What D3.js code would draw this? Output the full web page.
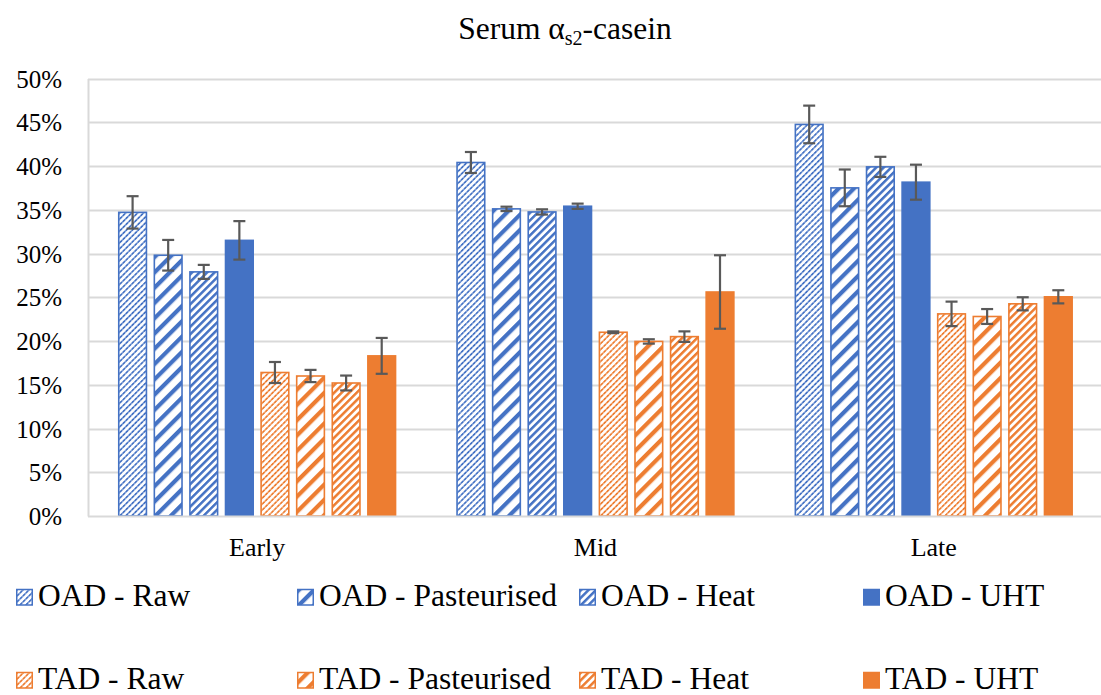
<!DOCTYPE html>
<html>
<head>
<meta charset="utf-8">
<script src="https://cdn.jsdelivr.net/npm/d3@7/dist/d3.min.js"></script>
<style>
  html, body { margin: 0; padding: 0; background: #fff; }
  svg { display: block; }
  svg text { font-family: "Liberation Serif", "Times New Roman", serif !important; }
</style>
</head>
<body>
<svg id="chart" width="1101" height="695"></svg>
<script>
// Stages of lactation (x groups)
const categories = ["Early", "Mid", "Late"];

// Series names, in drawing order
const seriesNames = [
  "OAD - Raw", "OAD - Pasteurised", "OAD - Heat", "OAD - UHT",
  "TAD - Raw", "TAD - Pasteurised", "TAD - Heat", "TAD - UHT"
];

// Mean serum αs2-casein proportion (%) per series, per stage
const oadRaw   = [34.7, 40.4, 44.75];
const oadPast  = [29.8, 35.1, 37.5];
const oadHeat  = [27.9, 34.75, 39.9];
const oadUht   = [31.5, 35.4, 38.15];
const tadRaw   = [16.4, 21.0, 23.1];
const tadPast  = [16.0, 19.95, 22.8];
const tadHeat  = [15.2, 20.5, 24.25];
const tadUht   = [18.3, 25.6, 25.05];

// Error bar half-widths (%)
const oadRawErr  = [1.85, 1.2, 2.15];
const oadPastErr = [1.75, 0.25, 2.1];
const oadHeatErr = [0.8, 0.3, 1.15];
const oadUhtErr  = [2.2, 0.3, 2.0];
const tadRawErr  = [1.2, 0.1, 1.4];
const tadPastErr = [0.7, 0.25, 0.85];
const tadHeatErr = [0.85, 0.6, 0.75];
const tadUhtErr  = [2.05, 4.2, 0.75];

// Y axis tick values
const yTicks = [0, 5, 10, 15, 20, 25, 30, 35, 40, 45, 50];

const seriesValues = [oadRaw, oadPast, oadHeat, oadUht, tadRaw, tadPast, tadHeat, tadUht];
const seriesErrors = [oadRawErr, oadPastErr, oadHeatErr, oadUhtErr, tadRawErr, tadPastErr, tadHeatErr, tadUhtErr];

const BLUE = "#4472C4", ORANGE = "#ED7D31";
const fillKind = ["raw", "past", "heat", "solid", "raw", "past", "heat", "solid"];
const seriesColor = seriesNames.map(n => n.startsWith("OAD") ? BLUE : ORANGE);
const SERIF = "'Liberation Serif', 'Times New Roman', serif";

const svg = d3.select("#chart");
const W = 1101, H = 695;
const plotL = 88, plotR = W + 2;
const plotT = 78.5, plotB = 516;

// Hatch patterns
const defs = svg.append("defs");
function makePattern(id, color, kind) {
  const spec = {
    raw:  { size: 4.2, width: 1.7, opacity: 1 },
    past: { size: 10.8, width: 4.2, opacity: 1 },
    heat: { size: 5.3, width: 2.5, opacity: 1 }
  }[kind];
  const p = defs.append("pattern")
    .attr("id", id)
    .attr("patternUnits", "userSpaceOnUse")
    .attr("width", spec.size)
    .attr("height", spec.size)
    .attr("patternTransform", "rotate(45)");
  p.append("rect").attr("width", spec.size).attr("height", spec.size).attr("fill", "#fff");
  p.append("rect")
    .attr("x", 0).attr("y", 0)
    .attr("width", spec.width).attr("height", spec.size)
    .attr("fill", color).attr("opacity", spec.opacity);
  if (kind === "raw") {
    // broken look of the fine hatch
    p.append("rect").attr("x", 0).attr("y", spec.size * 0.5)
      .attr("width", spec.width).attr("height", 0.9).attr("fill", "#fff").attr("opacity", 0.55);
  }
}
seriesNames.forEach((n, i) => {
  if (fillKind[i] !== "solid") makePattern("pat" + i, seriesColor[i], fillKind[i]);
});
const fillOf = i => fillKind[i] === "solid" ? seriesColor[i] : `url(#pat${i})`;

// Scales
const x0 = d3.scaleBand().domain(categories).range([plotL, plotL + 3 * 338.3]);
const bw = x0.bandwidth();
const x1 = d3.scaleBand().domain(seriesNames).range([30, bw - 30]).paddingInner(0.18);
const y = d3.scaleLinear().domain([0, 50]).range([plotB, plotT]);

// Gridlines
svg.append("g").selectAll("line").data(yTicks.filter(t => t > 0)).join("line")
  .attr("x1", plotL).attr("x2", plotR)
  .attr("y1", d => Math.round(y(d)) + 0.5).attr("y2", d => Math.round(y(d)) + 0.5)
  .attr("stroke", "#d9d9d9").attr("stroke-width", 2);

// Y axis
const yAxis = d3.axisLeft(y).tickValues(yTicks).tickSize(0).tickPadding(26).tickFormat(d => d + "%");
const gy = svg.append("g").attr("transform", `translate(${plotL},0)`).call(yAxis)
  .attr("font-family", SERIF);
gy.select(".domain").attr("stroke", "#d9d9d9").attr("stroke-width", 2);
gy.selectAll("text").attr("font-size", 25).attr("fill", "#000")
  .style("font-family", SERIF).attr("dy", "0.34em");

// Bars
const groups = svg.append("g").selectAll("g").data(categories).join("g")
  .attr("transform", d => `translate(${x0(d)},0)`);

seriesNames.forEach((name, si) => {
  groups.append("rect")
    .attr("x", () => x1(name) + 0.75)
    .attr("width", x1.bandwidth() - 1.5)
    .attr("y", (d, ci) => y(seriesValues[si][ci]))
    .attr("height", (d, ci) => plotB - y(seriesValues[si][ci]))
    .attr("fill", fillOf(si))
    .attr("stroke", seriesColor[si])
    .attr("stroke-width", 1.6);
});

// X axis baseline
svg.append("line").attr("x1", plotL).attr("x2", plotR)
  .attr("y1", plotB + 0.5).attr("y2", plotB + 0.5)
  .attr("stroke", "#d9d9d9").attr("stroke-width", 2);

// Error bars
seriesNames.forEach((name, si) => {
  const eg = groups.append("g").attr("stroke", "#595959").attr("stroke-width", 2.2).attr("fill", "none");
  const cx = x1(name) + x1.bandwidth() / 2;
  eg.append("line")
    .attr("x1", cx).attr("x2", cx)
    .attr("y1", (d, ci) => y(seriesValues[si][ci] + seriesErrors[si][ci]))
    .attr("y2", (d, ci) => y(seriesValues[si][ci] - seriesErrors[si][ci]));
  [1, -1].forEach(s => {
    eg.append("line")
      .attr("x1", cx - 6).attr("x2", cx + 6)
      .attr("y1", (d, ci) => y(seriesValues[si][ci] + s * seriesErrors[si][ci]))
      .attr("y2", (d, ci) => y(seriesValues[si][ci] + s * seriesErrors[si][ci]));
  });
});

// Category labels
const xAxis = d3.axisBottom(x0).tickSize(0).tickPadding(22);
const gx = svg.append("g").attr("transform", `translate(0,${plotB})`).call(xAxis)
  .attr("font-family", SERIF);
gx.select(".domain").remove();
gx.selectAll("text").attr("font-size", 26).attr("fill", "#000").style("font-family", SERIF);

// Title with subscript
const title = svg.append("text").attr("x", 565).attr("y", 39)
  .attr("text-anchor", "middle").attr("font-size", 31.5).attr("fill", "#000")
  .style("font-family", SERIF);
title.append("tspan").text("Serum α");
title.append("tspan").attr("font-size", 20).attr("dy", 6).text("s2");
title.append("tspan").attr("dy", -6).text("-casein");

// Legend
const legX = [16, 297, 579, 863];
const legY = [606, 689];
const leg = svg.append("g");
seriesNames.forEach((name, i) => {
  const lx = legX[i % 4], ly = legY[Math.floor(i / 4)];
  leg.append("rect")
    .attr("x", lx + 0.75).attr("y", ly - 16.5)
    .attr("width", 15.5).attr("height", 15.5)
    .attr("fill", fillOf(i)).attr("stroke", seriesColor[i]).attr("stroke-width", 1.5);
  leg.append("text").attr("x", lx + 22).attr("y", ly)
    .attr("font-size", 31.5).attr("fill", "#000").style("font-family", SERIF).text(name);
});
</script>
</body>
</html>
